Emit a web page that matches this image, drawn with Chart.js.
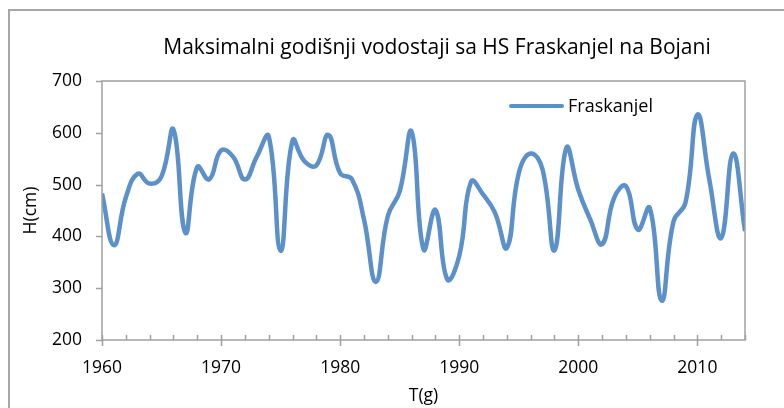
<!DOCTYPE html>
<html>
<head>
<meta charset="utf-8">
<script src="https://cdn.jsdelivr.net/npm/chart.js@4.4.1/dist/chart.umd.min.js"></script>
<style>
    html, body { margin: 0; padding: 0; background: #fff; overflow: hidden; }
    #wrap { position: relative; width: 784px; height: 408px; }
    #frame {
        position: absolute; left: 8px; top: 9px; width: 900px; height: 500px;
        border-left: 2px solid #a6a6a6; border-top: 2px solid #a6a6a6;
    }
    canvas { position: absolute; left: 0; top: 0; }
</style>
</head>
<body>
<div id="wrap">
    <div id="frame"></div>
    <canvas id="vodostaji" width="784" height="408"></canvas>
</div>
<script>
const years = [
    1960, 1961, 1962, 1963, 1964, 1965, 1966, 1967, 1968, 1969,
    1970, 1971, 1972, 1973, 1974, 1975, 1976, 1977, 1978, 1979,
    1980, 1981, 1982, 1983, 1984, 1985, 1986, 1987, 1988, 1989,
    1990, 1991, 1992, 1993, 1994, 1995, 1996, 1997, 1998, 1999,
    2000, 2001, 2002, 2003, 2004, 2005, 2006, 2007, 2008, 2009,
    2010, 2011, 2012, 2013, 2014
];
const fraskanjel = [
    483, 383, 475, 521, 502, 516, 606, 407, 534, 510,
    566, 554, 510, 554, 593, 372, 585, 545, 537, 596,
    522, 510, 433, 312, 439, 487, 602, 375, 451, 317,
    362, 506, 481, 446, 378, 522, 560, 529, 373, 571,
    490, 433, 385, 474, 497, 413, 455, 276, 429, 465,
    635, 510, 397, 560, 410
];
const yTicks = [200, 300, 400, 500, 600, 700];
const xLabels = [1960, 1970, 1980, 1990, 2000, 2010];

const chartTitle = 'Maksimalni godišnji vodostaji sa HS Fraskanjel na Bojani';
const seriesName = 'Fraskanjel';
const lineColor = '#5b90cb';
const axisColor = '#a0a0a0';
const font = 'Open Sans';

// okvir oko plot area + kratke crtice na osama (kao u Excelu)
const axisMarks = {
    id: 'axisMarks',
    afterDraw(chart) {
        const ctx = chart.ctx;
        const area = chart.chartArea;
        const x = chart.scales.x;
        const y = chart.scales.y;
        ctx.save();
        ctx.strokeStyle = axisColor;
        ctx.lineWidth = 1.5;
        ctx.strokeRect(area.left, area.top, area.right - area.left, area.bottom - area.top);

        ctx.beginPath();
        for (let yr = 1960; yr <= 2014; yr += 2) {
            const px = Math.round(x.getPixelForValue(yr)) + 0.5;
            if (yr % 10 === 0) {
                ctx.moveTo(px, area.bottom - 5);
                ctx.lineTo(px, area.bottom + 6);
            } else {
                ctx.moveTo(px, area.bottom - 5);
                ctx.lineTo(px, area.bottom);
            }
        }
        for (const v of yTicks) {
            const py = Math.round(y.getPixelForValue(v)) + 0.5;
            ctx.moveTo(area.left - 6, py);
            ctx.lineTo(area.left, py);
        }
        ctx.stroke();

        // naslov
        ctx.fillStyle = '#000';
        ctx.font = '21px "' + font + '"';
        ctx.textAlign = 'center';
        ctx.textBaseline = 'middle';
        ctx.fillText(chartTitle, 437, 48);

        // legenda
        ctx.strokeStyle = lineColor;
        ctx.lineWidth = 4;
        ctx.lineCap = 'round';
        ctx.beginPath();
        ctx.moveTo(511, 106);
        ctx.lineTo(562, 106);
        ctx.stroke();
        ctx.font = '18px "' + font + '"';
        ctx.textAlign = 'left';
        ctx.fillText(seriesName, 568, 107);
        ctx.restore();
    }
};

const ctx = document.getElementById('vodostaji').getContext('2d');
new Chart(ctx, {
    type: 'line',
    data: {
        datasets: [{
            label: seriesName,
            data: years.map((yr, i) => ({ x: yr, y: fraskanjel[i] })),
            borderColor: lineColor,
            borderWidth: 4.5,
            pointRadius: 0,
            tension: 0.45,
            fill: false
        }]
    },
    options: {
        responsive: false,
        animation: false,
        layout: { padding: { left: 0, top: 81, right: 39, bottom: 0 } },
        plugins: {
            legend: { display: false },
            title: { display: false },
            tooltip: { enabled: false }
        },
        scales: {
            x: {
                type: 'linear',
                min: 1960,
                max: 2014,
                afterFit: (scale) => { scale.height = 68; },
                grid: { display: false, drawTicks: false },
                border: { display: false },
                ticks: {
                    stepSize: 2,
                    autoSkip: false,
                    maxRotation: 0,
                    padding: 18,
                    color: '#000',
                    font: { family: font, size: 17.5 },
                    callback: (v) => xLabels.includes(v) ? String(v) : ''
                },
                title: {
                    display: true,
                    text: 'T(g)',
                    color: '#000',
                    font: { family: font, size: 17.5 },
                    padding: { top: 0, bottom: 1 }
                }
            },
            y: {
                min: 200,
                max: 700,
                afterFit: (scale) => { scale.width = 102; },
                grid: { display: false, drawTicks: false },
                border: { display: false },
                ticks: {
                    stepSize: 100,
                    padding: 20,
                    color: '#000',
                    font: { family: font, size: 17.5 }
                },
                title: {
                    display: true,
                    text: 'H(cm)',
                    color: '#000',
                    font: { family: font, size: 17.5 },
                    padding: { top: 21, bottom: 0 }
                }
            }
        }
    },
    plugins: [axisMarks]
});
</script>
</body>
</html>
